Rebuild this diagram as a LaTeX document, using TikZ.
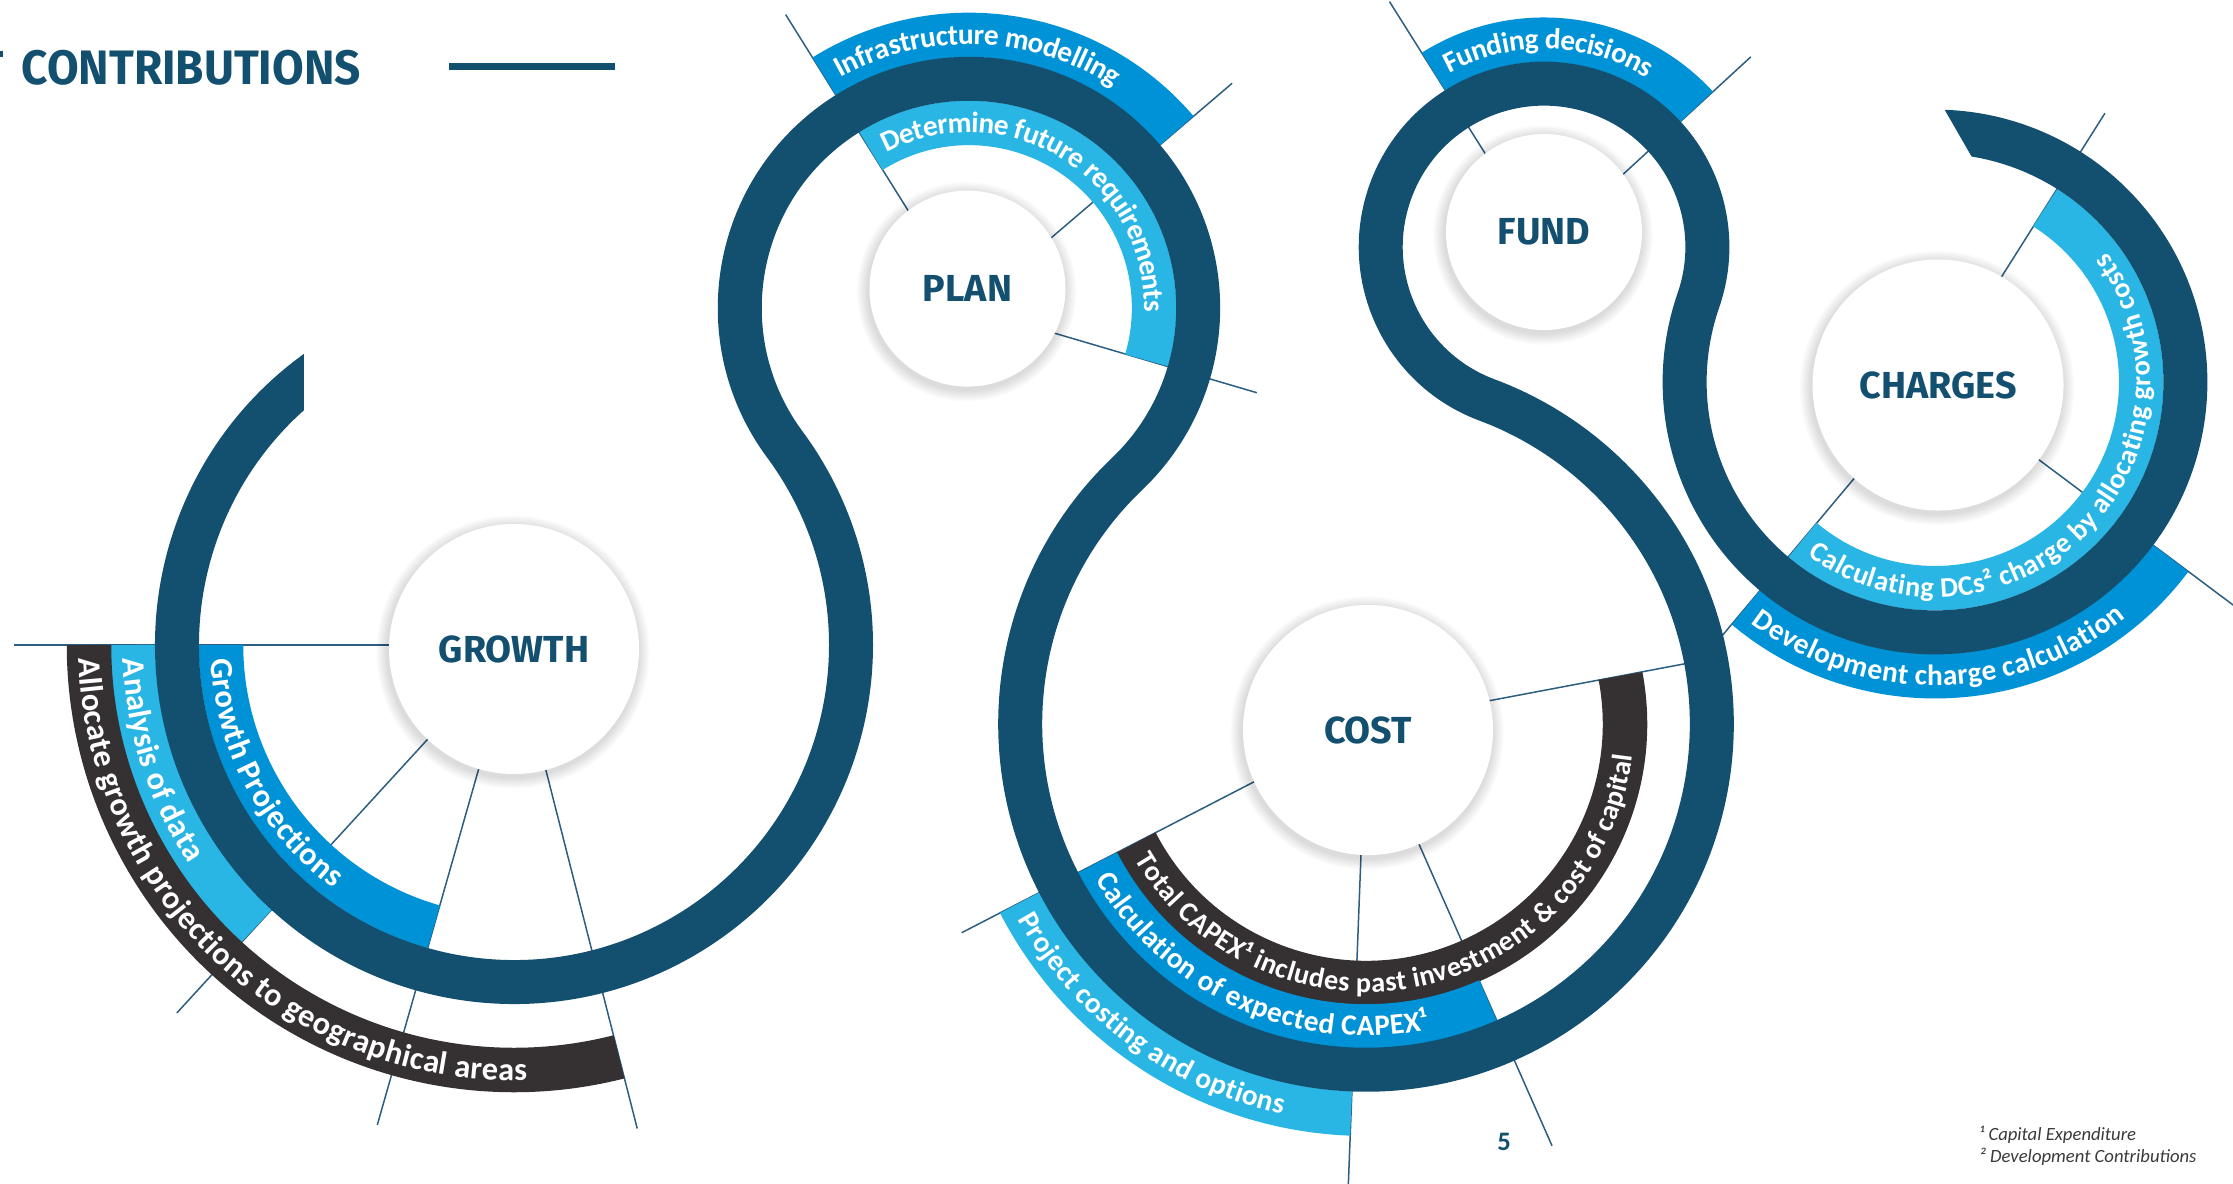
\documentclass[tikz,border=0pt]{standalone}
\usepackage{fontspec}
\usepackage{graphicx}
\usetikzlibrary{calc,decorations.text}
\newfontfamily\bandfont{Carlito}
\newfontfamily\labelfont{Fira Sans}
\definecolor{ringblue}{HTML}{13506F}
\definecolor{midblue}{HTML}{0092D6}
\definecolor{lightblue}{HTML}{29B6E5}
\definecolor{darkgray}{HTML}{353132}
\definecolor{leadercol}{HTML}{2B5E80}
\definecolor{notegray}{HTML}{3A3A3A}
\newcommand\bandarc[5]{\draw[bandline,#5] ($(#1)+(#3:#2)$) arc[start angle=#3,end angle=#4,radius=#2];}
\newcommand\bandtext[6][8.8pt]{\path[decorate,decoration={text along path,text={|\bandfont\bfseries\fontsize{#1}{10pt}\selectfont\color{white}|#6},text align={left indent=4pt},raise={-0.32*#1}}] ($(#2)+(#4:#3)$) arc[start angle=#4,end angle=#5,radius=#3];}
\newcommand\glowat[3]{\foreach \k in {1,...,9}{\fill[black,opacity=0.016] (#1-1,#2+3) circle[radius=#3+\k*1.3];}}
\begin{document}
\begin{tikzpicture}[x=0.3pt,y=-0.3pt,
  bandline/.style={line width=13.35pt},
  ring/.style={line width=13.2pt,draw=ringblue,line join=round},
  leader/.style={draw=leadercol,line width=0.45pt},
  hub/.style={circle,fill=white,inner sep=0pt,text=ringblue,font=\labelfont\bfseries\fontsize{11.3pt}{13pt}\selectfont}]
\useasboundingbox (0,0) rectangle (2233,1183);
% loop centres
\coordinate (G) at (514,645);
\coordinate (P) at (969,308);
\coordinate (C) at (1366,724);
\coordinate (F) at (1544,247);
\coordinate (H) at (1935,382);
% leader ends
\coordinate (g1) at ($(G)+(180:500)$);
\coordinate (g2) at ($(G)+(132.5:499)$);
\coordinate (g3) at ($(G)+(105.9:499)$);
\coordinate (g4) at ($(G)+(75.7:499)$);
\coordinate (pa) at ($(P)+(-122:346)$);
\coordinate (pb) at ($(P)+(-40.5:346)$);
\coordinate (pc) at ($(P)+(16.4:300)$);
\coordinate (fa) at ($(F)+(-122.2:290)$);
\coordinate (fb) at ($(F)+(-42.6:281)$);
\coordinate (ha) at ($(H)+(-57.7:318)$);
\coordinate (hb) at ($(H)+(36.8:375)$);
\coordinate (hc) at ($(H)+(130:331)$);
\coordinate (c1) at ($(C)+(152.7:455)$);
\coordinate (c2) at ($(C)+(92.2:465)$);
\coordinate (c3) at ($(C)+(66.2:461)$);
\coordinate (c4) at ($(C)+(-10.7:324)$);
% leader lines
\foreach \a/\b in {G/g1,G/g2,G/g3,G/g4,P/pa,P/pb,P/pc,F/fa,F/fb,H/ha,H/hb,H/hc,C/c1,C/c2,C/c3,C/c4}
  \draw[leader] (\a) -- (\b);
% bands
\bandarc{G}{293}{180}{105.9}{draw=midblue}
\bandarc{G}{381}{180}{132.5}{draw=lightblue}
\bandarc{G}{425}{180}{75.7}{draw=darkgray}
\bandarc{P}{273.1}{-122}{-40.5}{draw=midblue}
\bandarc{P}{185.1}{-122}{16.4}{draw=lightblue}
\bandarc{F}{207.3}{-122.2}{-42.6}{draw=midblue}
\bandarc{H}{206.2}{130}{-57.7}{draw=lightblue}
\bandarc{H}{294.2}{130}{36.8}{draw=midblue}
\bandarc{C}{259}{152.7}{-10.7}{draw=darkgray}
\bandarc{C}{302.4}{152.7}{66.2}{draw=midblue}
\bandarc{C}{389.7}{152.7}{92.2}{draw=lightblue}
% the ring
\draw[ring] ($(G)+(236:337)$) arc[start angle=236,end angle=-36.53,radius=337]
  arc[start angle=143.47,end angle=406.33,radius=229.21]
  arc[start angle=226.33,end angle=-69.53,radius=345.83]
  arc[start angle=110.47,end angle=379.05,radius=163.30]
  arc[start angle=199.05,end angle=-95,radius=250.35];
% cut ends
\fill[white] (303.5,335) rectangle (350,425);
\fill[white] (1936,95) -- (1986,182) -- (1896,182) -- (1846,95) -- cycle;
% band texts
\bandtext[9.7pt]{G}{293}{180}{105.9}{Growth Projections}
\bandtext[9.7pt]{G}{381}{180}{132.5}{Analysis of data}
\bandtext[9.7pt]{G}{425}{180}{75.7}{Allocate growth projections to geographical areas}
\bandtext{P}{273.1}{-122}{-40.5}{Infrastructure modelling}
\bandtext{P}{185.1}{-122}{16.4}{Determine future requirements}
\bandtext{F}{207.3}{-122.2}{-42.6}{Funding decisions}
\bandtext[8.5pt]{H}{206.2}{130}{-57.7}{Calculating DCs² charge by allocating growth costs}
\bandtext{H}{294.2}{130}{36.8}{Development charge calculation}
\bandtext[8.5pt]{C}{259}{152.7}{-10.7}{Total CAPEX¹ includes past investment {\&} cost of capital}
\bandtext{C}{302.4}{152.7}{66.2}{Calculation of expected CAPEX¹}
\bandtext{C}{389.7}{152.7}{92.2}{Project costing and options}
% hubs
\glowat{514}{649}{125}
\glowat{967.5}{288.6}{98}
\glowat{1544}{232}{98}
\glowat{1368}{730}{125}
\glowat{1938}{385}{125.5}
\node[hub,minimum size=75pt] (growth) at (514,649) {GROWTH};
\node[hub,minimum size=58.8pt] (plan) at (967.5,288.6) {PLAN};
\node[hub,minimum size=58.8pt] (fund) at (1544,232) {FUND};
\node[hub,minimum size=75pt] (cost) at (1368,730) {COST};
\node[hub,minimum size=75.3pt] (charges) at (1938,385) {CHARGES};
% title
\fill[ringblue] (0,51) rectangle (3,57);
\node[anchor=west,inner sep=0pt,text=ringblue,font=\labelfont\bfseries\fontsize{14.5pt}{16pt}\selectfont] (title) at (21,67.5) {\scalebox{0.95}[1]{CONTRIBUTIONS}};
\draw[ringblue,line width=2.1pt] (449,66) -- (615,66);
% page number and notes
\node[inner sep=0pt,text=ringblue,font=\bandfont\bfseries\fontsize{8pt}{9pt}\selectfont] (pagenum) at (1504,1142) {5};
\node[anchor=west,align=left,inner sep=0pt,text=notegray,font=\bandfont\itshape\fontsize{5.6pt}{6.6pt}\selectfont] (notes) at (1979,1146) {¹ Capital Expenditure\\² Development Contributions};
\end{tikzpicture}
\end{document}
